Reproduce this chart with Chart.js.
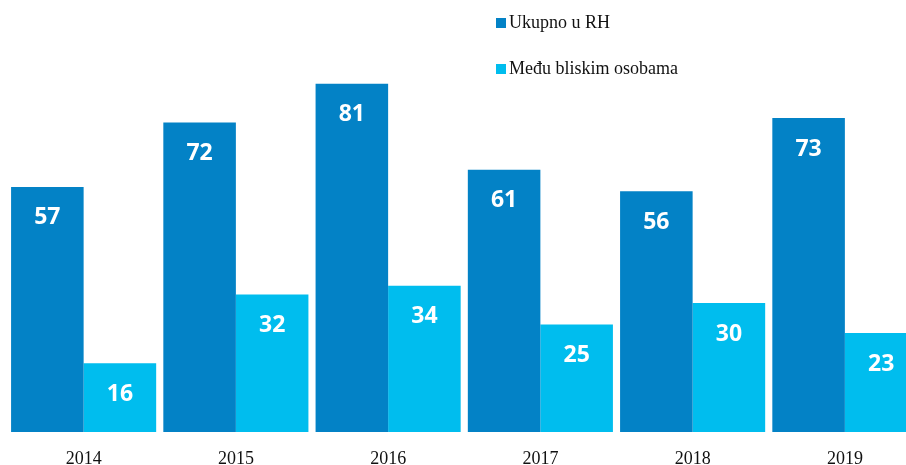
<!DOCTYPE html>
<html>
<head>
<meta charset="utf-8">
<script src="https://cdn.jsdelivr.net/npm/chart.js@4"></script>
<style>
  html, body { margin: 0; padding: 0; background: #fff; overflow: hidden; }
  #wrap { width: 921px; height: 465px; position: relative; }
</style>
</head>
<body>
<div id="wrap"><canvas id="barChart"></canvas></div>
<script>
const years = ["2014", "2015", "2016", "2017", "2018", "2019"];
const ukupno = [57, 72, 81, 61, 56, 73];
const bliskim = [16, 32, 34, 25, 30, 23];
const seriesNames = ["Ukupno u RH", "Među bliskim osobama"];
const seriesColors = ["#0382c6", "#00bdee"];

// white numbers inside the top of each bar
const valueLabels = {
  id: "valueLabels",
  afterDatasetsDraw(chart) {
    const ctx = chart.ctx;
    ctx.save();
    ctx.fillStyle = "#ffffff";
    ctx.font = "bold 23px 'Open Sans', sans-serif";
    ctx.textAlign = "center";
    ctx.textBaseline = "middle";
    chart.data.datasets.forEach((ds, i) => {
      chart.getDatasetMeta(i).data.forEach((bar, j) => {
        ctx.fillText(ds.data[j], bar.x, bar.y + 31);
      });
    });
    ctx.restore();
  },
};

// stacked legend at the top
const stackedLegend = {
  id: "stackedLegend",
  afterDraw(chart) {
    const ctx = chart.ctx;
    ctx.save();
    ctx.font = "18px 'Liberation Serif', 'Times New Roman', serif";
    ctx.textBaseline = "middle";
    chart.data.datasets.forEach((ds, i) => {
      const y = 23 + i * 46;
      ctx.fillStyle = ds.backgroundColor;
      ctx.fillRect(496, y - 5, 10, 10);
      ctx.fillStyle = "#111111";
      ctx.fillText(ds.label, 509, y);
    });
    ctx.restore();
  },
};

const ctx = document.getElementById("barChart").getContext("2d");
new Chart(ctx, {
  type: "bar",
  data: {
    labels: years,
    datasets: [
      { label: seriesNames[0], data: ukupno, backgroundColor: seriesColors[0] },
      { label: seriesNames[1], data: bliskim, backgroundColor: seriesColors[1] },
    ],
  },
  options: {
    responsive: true,
    maintainAspectRatio: false,
    animation: false,
    layout: { padding: { left: 7.5, right: 0, top: 2, bottom: 0 } },
    datasets: {
      bar: { categoryPercentage: 0.953, barPercentage: 1.0 },
    },
    plugins: {
      legend: { display: false },
      tooltip: { enabled: false },
    },
    scales: {
      x: {
        grid: { display: false },
        border: { display: false },
        afterFit: (scale) => {
          scale.height = 33;
        },
        ticks: {
          color: "#111111",
          padding: 10,
          maxRotation: 0,
          font: { family: "'Liberation Serif', 'Times New Roman', serif", size: 18, lineHeight: 1 },
        },
      },
      y: {
        display: false,
        min: 0,
        max: 100,
      },
    },
  },
  plugins: [valueLabels, stackedLegend],
});
</script>
</body>
</html>
